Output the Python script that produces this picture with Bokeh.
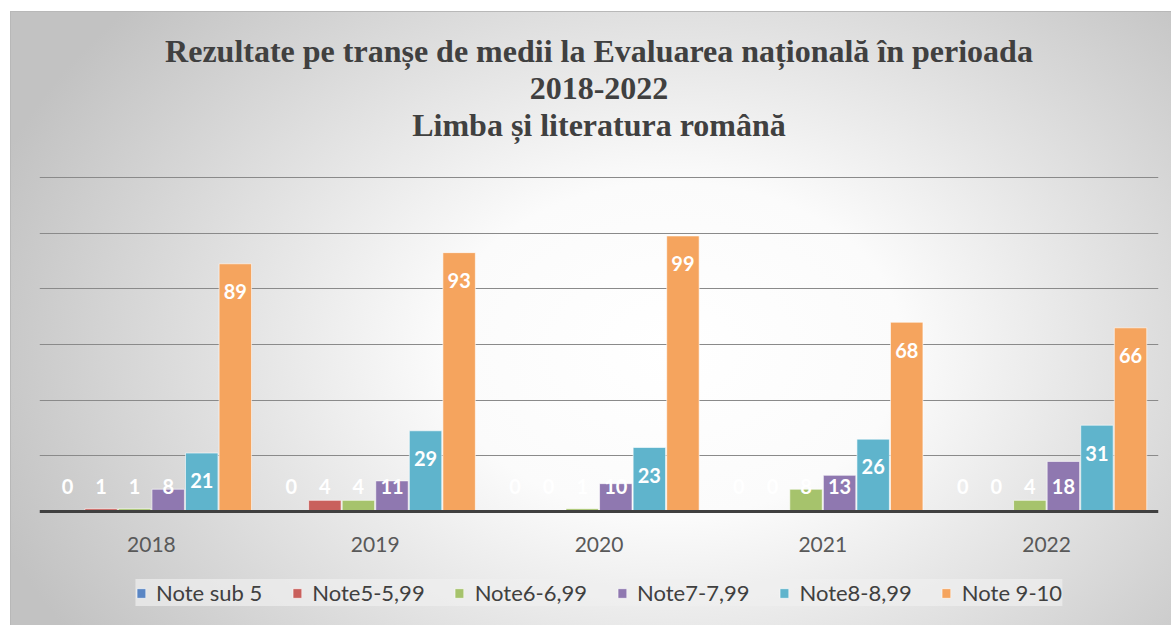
from bokeh.plotting import figure
from bokeh.models import (ColumnDataSource, FactorRange, Range1d, Legend, LegendItem,
                          Title, SingleIntervalTicker, Span)
from bokeh.transform import dodge
from bokeh.core.properties import value
from bokeh.embed import file_html
from bokeh.resources import INLINE

years = ["2018", "2019", "2020", "2021", "2022"]
series = ["Note sub 5", "Note5-5,99", "Note6-6,99", "Note7-7,99", "Note8-8,99", "Note 9-10"]
note_sub5 = [0, 0, 0, 0, 0]
note_5 = [1, 4, 0, 0, 0]
note_6 = [1, 4, 1, 8, 4]
note_7 = [8, 11, 10, 13, 18]
note_8 = [21, 29, 23, 26, 31]
note_9 = [89, 93, 99, 68, 66]
all_values = [note_sub5, note_5, note_6, note_7, note_8, note_9]
colors = ["#5A86C4", "#C9605C", "#A6C36C", "#8F78B0", "#5FB4CC", "#F5A45E"]
title_lines = ["Rezultate pe tranșe de medii la Evaluarea națională în perioada",
               "2018-2022",
               "Limba și literatura română"]

PX = 334 / 120.0  # pixels per unit
p = figure(frame_width=1119, frame_height=477, x_range=FactorRange(*years, range_padding=0),
           y_range=Range1d(-114 / PX, 363 / PX), output_backend="svg", toolbar_location=None,
           min_border_left=28, min_border_right=14, min_border_top=136, min_border_bottom=0)
p.styles = {"background": "radial-gradient(ellipse 62% 85% at 57% 55%, #ffffff 0%, #fbfbfb 32%, #c2c2c2 100%)",
            "border-left": "1px solid #b8b8b8", "border-top": "1px solid #b8b8b8",
            "margin-left": "10px", "margin-top": "11px"}
p.border_fill_color = None
p.background_fill_color = None
p.outline_line_color = None

for i, line in enumerate(reversed(title_lines)):
    t = Title(text=line, align="center", text_font="Liberation Serif",
              text_font_size="32px", text_font_style="bold", text_color="#404040",
              standoff=[12, 0, 14][i])
    p.add_layout(t, "above")

p.axis.visible = False
p.xgrid.grid_line_color = None
p.ygrid.ticker = SingleIntervalTicker(interval=20)
p.ygrid.bounds = (10, 125)
p.ygrid.grid_line_color = "#8a8a8a"
p.ygrid.grid_line_width = 1

step = 0.15
width = 0.145
items = []
for i, (name, vals, col) in enumerate(zip(series, all_values, colors)):
    src = ColumnDataSource(dict(x=years, v=vals,
                                ly=[max(v - 10, 9) for v in vals],
                                txt=[str(v) for v in vals]))
    off = -0.375 + step * i
    r = p.vbar(x=dodge("x", off, range=p.x_range), top="v", width=width, source=src,
               fill_color=col, line_color="white", line_alpha=0.6, line_width=1)
    p.text(x=dodge("x", off, range=p.x_range), y="ly", text="txt", source=src,
           text_color="white", text_font=value("Lato"), text_font_style="bold",
           text_font_size="20px", text_align="center", text_baseline="middle")
    items.append(LegendItem(label=name, renderers=[r]))

p.add_layout(Span(location=0, dimension="width", line_color="#404040", line_width=3))

cat_src = ColumnDataSource(dict(x=years, y=[-33 / PX] * len(years)))
p.text(x="x", y="y", text="x", source=cat_src, text_color="#595959",
       text_font=value("Lato"), text_font_size="21px",
       text_align="center", text_baseline="middle")

legend = Legend(items=items, orientation="horizontal", location="bottom_center", nrows=1,
                label_text_font="Lato", label_text_font_size="22px", label_height=26,
                label_text_color="#404040", glyph_width=11, glyph_height=12,
                label_standoff=10, spacing=29, padding=10, margin=19,
                background_fill_color="#f0f0f0", background_fill_alpha=0.7,
                border_line_color=None)
p.add_layout(legend, "center")

open("out.html", "w").write(file_html(p, INLINE))
